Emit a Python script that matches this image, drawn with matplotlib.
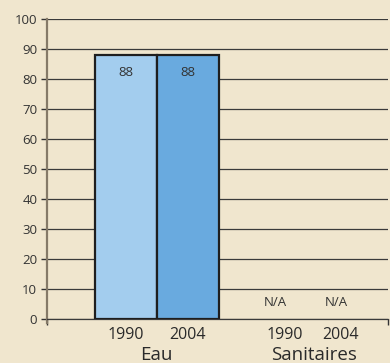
import numpy as np
import matplotlib.pyplot as plt

plt.rcParams['font.family'] = ['Open Sans', 'DejaVu Sans']

groups = ['Eau', 'Sanitaires']
years = ['1990', '2004', '1990', '2004']
eau_values = [88, 88]
san_labels = ['N/A', 'N/A']
bar_colors = ['#A3CDEE', '#69AADF']
yticks = np.arange(0, 101, 10)

bg = '#F0E6CE'
fig = plt.figure(figsize=(3.9, 3.63), dpi=100, facecolor=bg)
ax = fig.add_axes([47/390, 44/363, 341/390, 300/363], facecolor=bg)

# bar / label positions (unit = one bar width)
eau_x = [1.27, 2.27]
year_x = [1.27, 2.27, 3.84, 4.73]
na_x = [3.69, 4.66]
group_x = [1.77, 4.3]

ax.bar(eau_x, eau_values, width=1.0, color=bar_colors, edgecolor='#1e1e1e',
       linewidth=1.6, zorder=3)
for x, v in zip(eau_x, eau_values):
    ax.text(x, v - 3.8, str(v), ha='center', va='top', fontsize=9.5, color='#333333', zorder=4)
for x, s in zip(na_x, san_labels):
    ax.text(x, 3.5, s, ha='center', va='bottom', fontsize=9.5, color='#333333')

ax.set_xlim(0, 5.5)
ax.set_ylim(0, 100)
ax.set_yticks(yticks)
ax.tick_params(axis='y', labelsize=9.5, length=4, width=1, color='#333333',
               labelcolor='#333333', pad=3)
for y in yticks:
    ax.axhline(y, color='#3a3a3a', lw=0.9, zorder=1)

ax.set_xticks([0, 5.5])
ax.set_xticklabels(['', ''])
ax.tick_params(axis='x', length=4, width=1, color='#333333', direction='out')

for x, s in zip(year_x, years):
    ax.text(x, -2.8, s, ha='center', va='top', fontsize=11.5, color='#2a2a2a', clip_on=False)
for x, s in zip(group_x, groups):
    ax.text(x, -9.0, s, ha='center', va='top', fontsize=13.5, color='#2a2a2a', clip_on=False)

for side in ['top', 'right']:
    ax.spines[side].set_visible(False)
ax.spines['left'].set_color('#857a68')
ax.spines['left'].set_linewidth(1.6)
ax.spines['left'].set_bounds(-1.3, 100)
ax.spines['bottom'].set_color('#3a3a3a')
ax.spines['bottom'].set_linewidth(0.9)

plt.savefig('out.png', dpi=100, facecolor=bg)
